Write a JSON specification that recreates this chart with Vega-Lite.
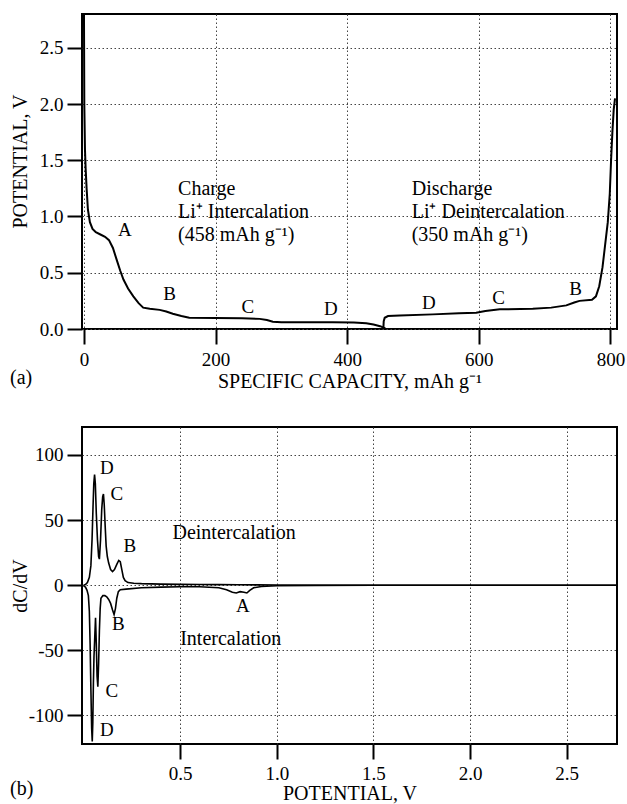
{
  "$schema": "https://vega.github.io/schema/vega-lite/v6.json",
  "background": "white",
  "padding": {"left": 8, "top": 13, "right": 5, "bottom": 5},
  "spacing": 98,
  "bounds": "flush",
  "config": {
    "font": "Liberation Serif",
    "view": {"stroke": "black", "strokeWidth": 2},
    "axis": {
      "domain": false,
      "ticks": true,
      "tickColor": "black",
      "tickWidth": 2,
      "tickSize": 15,
      "labelColor": "black",
      "labelFont": "Liberation Serif",
      "labelFontSize": 19,
      "labelPadding": 4,
      "titleColor": "black",
      "titleFont": "Liberation Serif",
      "titleFontSize": 20,
      "titleFontWeight": "normal",
      "grid": true,
      "gridColor": "#444",
      "gridDash": [1.5, 2.5],
      "gridWidth": 1
    },
    "axisX": {"labelPadding": 6, "titlePadding": 2},
    "title": {"font": "Liberation Serif", "fontSize": 20, "fontWeight": "normal", "color": "black"},
    "text": {"font": "Liberation Serif", "fontSize": 20, "color": "black"}
  },
  "datasets": {
    "voltage": [
      {"step": "charge", "cap": 0, "v": 2.8},
      {"step": "charge", "cap": 0.5, "v": 2.0},
      {"step": "charge", "cap": 1.5, "v": 1.6},
      {"step": "charge", "cap": 2.5, "v": 1.43},
      {"step": "charge", "cap": 4, "v": 1.25},
      {"step": "charge", "cap": 6, "v": 1.06},
      {"step": "charge", "cap": 9, "v": 0.95},
      {"step": "charge", "cap": 13, "v": 0.89},
      {"step": "charge", "cap": 18, "v": 0.86},
      {"step": "charge", "cap": 25, "v": 0.84},
      {"step": "charge", "cap": 32, "v": 0.82},
      {"step": "charge", "cap": 38, "v": 0.79},
      {"step": "charge", "cap": 44, "v": 0.72},
      {"step": "charge", "cap": 50, "v": 0.61},
      {"step": "charge", "cap": 55, "v": 0.52},
      {"step": "charge", "cap": 60, "v": 0.44},
      {"step": "charge", "cap": 67, "v": 0.36},
      {"step": "charge", "cap": 75, "v": 0.29},
      {"step": "charge", "cap": 83, "v": 0.23},
      {"step": "charge", "cap": 90, "v": 0.19},
      {"step": "charge", "cap": 100, "v": 0.18},
      {"step": "charge", "cap": 115, "v": 0.17},
      {"step": "charge", "cap": 125, "v": 0.155},
      {"step": "charge", "cap": 135, "v": 0.135},
      {"step": "charge", "cap": 148, "v": 0.115},
      {"step": "charge", "cap": 160, "v": 0.1},
      {"step": "charge", "cap": 200, "v": 0.098},
      {"step": "charge", "cap": 240, "v": 0.095},
      {"step": "charge", "cap": 267, "v": 0.09},
      {"step": "charge", "cap": 278, "v": 0.08},
      {"step": "charge", "cap": 287, "v": 0.065},
      {"step": "charge", "cap": 300, "v": 0.06},
      {"step": "charge", "cap": 378, "v": 0.06},
      {"step": "charge", "cap": 410, "v": 0.058},
      {"step": "charge", "cap": 429, "v": 0.052},
      {"step": "charge", "cap": 440, "v": 0.04},
      {"step": "charge", "cap": 450, "v": 0.025},
      {"step": "charge", "cap": 458, "v": 0.005},
      {"step": "discharge", "cap": 455, "v": 0.01},
      {"step": "discharge", "cap": 455.5, "v": 0.07},
      {"step": "discharge", "cap": 457, "v": 0.1},
      {"step": "discharge", "cap": 462, "v": 0.115},
      {"step": "discharge", "cap": 480, "v": 0.12},
      {"step": "discharge", "cap": 530, "v": 0.13},
      {"step": "discharge", "cap": 570, "v": 0.14},
      {"step": "discharge", "cap": 596, "v": 0.145},
      {"step": "discharge", "cap": 610, "v": 0.16},
      {"step": "discharge", "cap": 632, "v": 0.175},
      {"step": "discharge", "cap": 682, "v": 0.18},
      {"step": "discharge", "cap": 710, "v": 0.19},
      {"step": "discharge", "cap": 733, "v": 0.21},
      {"step": "discharge", "cap": 745, "v": 0.235},
      {"step": "discharge", "cap": 753, "v": 0.25},
      {"step": "discharge", "cap": 772, "v": 0.26},
      {"step": "discharge", "cap": 778, "v": 0.29},
      {"step": "discharge", "cap": 783, "v": 0.38},
      {"step": "discharge", "cap": 788, "v": 0.55},
      {"step": "discharge", "cap": 792, "v": 0.75},
      {"step": "discharge", "cap": 796, "v": 0.95},
      {"step": "discharge", "cap": 799, "v": 1.2},
      {"step": "discharge", "cap": 801, "v": 1.5},
      {"step": "discharge", "cap": 803, "v": 1.75},
      {"step": "discharge", "cap": 805, "v": 1.95},
      {"step": "discharge", "cap": 807, "v": 2.05}
    ],
    "voltageNotes": [
      {"cap": 143, "v": 1.19, "text": "Charge"},
      {"cap": 143, "v": 0.985, "text": "Li⁺ Intercalation"},
      {"cap": 143, "v": 0.78, "text": "(458 mAh g⁻¹)"},
      {"cap": 498, "v": 1.19, "text": "Discharge"},
      {"cap": 498, "v": 0.985, "text": "Li⁺ Deintercalation"},
      {"cap": 498, "v": 0.78, "text": "(350 mAh g⁻¹)"}
    ],
    "voltagePeaks": [
      {"cap": 62, "v": 0.88, "text": "A"},
      {"cap": 130, "v": 0.31, "text": "B"},
      {"cap": 249, "v": 0.2, "text": "C"},
      {"cap": 375, "v": 0.18, "text": "D"},
      {"cap": 524, "v": 0.23, "text": "D"},
      {"cap": 630, "v": 0.28, "text": "C"},
      {"cap": 747, "v": 0.36, "text": "B"}
    ],
    "differential": [
      {"process": "Deintercalation", "pot": 0.0, "dcdv": 0},
      {"process": "Deintercalation", "pot": 0.01, "dcdv": 0.5},
      {"process": "Deintercalation", "pot": 0.02, "dcdv": 2},
      {"process": "Deintercalation", "pot": 0.03, "dcdv": 6},
      {"process": "Deintercalation", "pot": 0.038, "dcdv": 15},
      {"process": "Deintercalation", "pot": 0.044, "dcdv": 35},
      {"process": "Deintercalation", "pot": 0.049, "dcdv": 60},
      {"process": "Deintercalation", "pot": 0.053, "dcdv": 78},
      {"process": "Deintercalation", "pot": 0.057, "dcdv": 85},
      {"process": "Deintercalation", "pot": 0.061, "dcdv": 78},
      {"process": "Deintercalation", "pot": 0.066, "dcdv": 55},
      {"process": "Deintercalation", "pot": 0.072, "dcdv": 35},
      {"process": "Deintercalation", "pot": 0.078, "dcdv": 22},
      {"process": "Deintercalation", "pot": 0.082, "dcdv": 20},
      {"process": "Deintercalation", "pot": 0.088, "dcdv": 35},
      {"process": "Deintercalation", "pot": 0.094, "dcdv": 58},
      {"process": "Deintercalation", "pot": 0.099, "dcdv": 68},
      {"process": "Deintercalation", "pot": 0.103, "dcdv": 70},
      {"process": "Deintercalation", "pot": 0.107, "dcdv": 62},
      {"process": "Deintercalation", "pot": 0.112, "dcdv": 45},
      {"process": "Deintercalation", "pot": 0.117, "dcdv": 30},
      {"process": "Deintercalation", "pot": 0.123, "dcdv": 22},
      {"process": "Deintercalation", "pot": 0.13, "dcdv": 17},
      {"process": "Deintercalation", "pot": 0.14, "dcdv": 12},
      {"process": "Deintercalation", "pot": 0.15, "dcdv": 10.5},
      {"process": "Deintercalation", "pot": 0.16, "dcdv": 12},
      {"process": "Deintercalation", "pot": 0.172, "dcdv": 16},
      {"process": "Deintercalation", "pot": 0.182, "dcdv": 19},
      {"process": "Deintercalation", "pot": 0.19, "dcdv": 18},
      {"process": "Deintercalation", "pot": 0.198, "dcdv": 12},
      {"process": "Deintercalation", "pot": 0.206, "dcdv": 6},
      {"process": "Deintercalation", "pot": 0.215, "dcdv": 3.5},
      {"process": "Deintercalation", "pot": 0.23, "dcdv": 2},
      {"process": "Deintercalation", "pot": 0.26, "dcdv": 1.5},
      {"process": "Deintercalation", "pot": 0.3, "dcdv": 1.2},
      {"process": "Deintercalation", "pot": 0.4, "dcdv": 0.8},
      {"process": "Deintercalation", "pot": 0.5, "dcdv": 0.6},
      {"process": "Deintercalation", "pot": 0.6, "dcdv": 0.5},
      {"process": "Deintercalation", "pot": 0.7, "dcdv": 0.4},
      {"process": "Deintercalation", "pot": 0.8, "dcdv": 0.3},
      {"process": "Deintercalation", "pot": 0.9, "dcdv": 0.2},
      {"process": "Deintercalation", "pot": 1.0, "dcdv": 0.1},
      {"process": "Deintercalation", "pot": 1.5, "dcdv": 0},
      {"process": "Deintercalation", "pot": 2.76, "dcdv": 0},
      {"process": "Intercalation", "pot": 0.0, "dcdv": -0.5},
      {"process": "Intercalation", "pot": 0.01, "dcdv": -1.5},
      {"process": "Intercalation", "pot": 0.018, "dcdv": -4},
      {"process": "Intercalation", "pot": 0.025, "dcdv": -8},
      {"process": "Intercalation", "pot": 0.03, "dcdv": -20},
      {"process": "Intercalation", "pot": 0.034, "dcdv": -45},
      {"process": "Intercalation", "pot": 0.038, "dcdv": -80},
      {"process": "Intercalation", "pot": 0.042, "dcdv": -110},
      {"process": "Intercalation", "pot": 0.045, "dcdv": -120},
      {"process": "Intercalation", "pot": 0.048, "dcdv": -105},
      {"process": "Intercalation", "pot": 0.051, "dcdv": -75},
      {"process": "Intercalation", "pot": 0.054, "dcdv": -55},
      {"process": "Intercalation", "pot": 0.058, "dcdv": -40},
      {"process": "Intercalation", "pot": 0.062, "dcdv": -25},
      {"process": "Intercalation", "pot": 0.066, "dcdv": -45},
      {"process": "Intercalation", "pot": 0.07, "dcdv": -70},
      {"process": "Intercalation", "pot": 0.074, "dcdv": -78},
      {"process": "Intercalation", "pot": 0.078, "dcdv": -60},
      {"process": "Intercalation", "pot": 0.082, "dcdv": -35},
      {"process": "Intercalation", "pot": 0.086, "dcdv": -18},
      {"process": "Intercalation", "pot": 0.09, "dcdv": -10},
      {"process": "Intercalation", "pot": 0.1, "dcdv": -8},
      {"process": "Intercalation", "pot": 0.11, "dcdv": -8},
      {"process": "Intercalation", "pot": 0.12, "dcdv": -9},
      {"process": "Intercalation", "pot": 0.13, "dcdv": -11},
      {"process": "Intercalation", "pot": 0.14, "dcdv": -14},
      {"process": "Intercalation", "pot": 0.15, "dcdv": -19},
      {"process": "Intercalation", "pot": 0.158, "dcdv": -22.5},
      {"process": "Intercalation", "pot": 0.165, "dcdv": -18},
      {"process": "Intercalation", "pot": 0.172, "dcdv": -10},
      {"process": "Intercalation", "pot": 0.18, "dcdv": -5},
      {"process": "Intercalation", "pot": 0.19, "dcdv": -3.5},
      {"process": "Intercalation", "pot": 0.22, "dcdv": -3},
      {"process": "Intercalation", "pot": 0.3, "dcdv": -2},
      {"process": "Intercalation", "pot": 0.4, "dcdv": -1.5},
      {"process": "Intercalation", "pot": 0.5, "dcdv": -1.2},
      {"process": "Intercalation", "pot": 0.6, "dcdv": -1.2},
      {"process": "Intercalation", "pot": 0.7, "dcdv": -2},
      {"process": "Intercalation", "pot": 0.74, "dcdv": -3.5},
      {"process": "Intercalation", "pot": 0.77, "dcdv": -5.5},
      {"process": "Intercalation", "pot": 0.79, "dcdv": -6},
      {"process": "Intercalation", "pot": 0.81, "dcdv": -5},
      {"process": "Intercalation", "pot": 0.83, "dcdv": -5.5},
      {"process": "Intercalation", "pot": 0.845, "dcdv": -6},
      {"process": "Intercalation", "pot": 0.86, "dcdv": -4},
      {"process": "Intercalation", "pot": 0.88, "dcdv": -2},
      {"process": "Intercalation", "pot": 0.92, "dcdv": -1},
      {"process": "Intercalation", "pot": 1.0, "dcdv": -0.5},
      {"process": "Intercalation", "pot": 1.2, "dcdv": -0.2},
      {"process": "Intercalation", "pot": 1.5, "dcdv": 0},
      {"process": "Intercalation", "pot": 2.76, "dcdv": 0}
    ],
    "differentialNotes": [
      {"pot": 0.46, "dcdv": 40, "text": "Deintercalation"},
      {"pot": 0.5, "dcdv": -41, "text": "Intercalation"}
    ],
    "differentialPeaks": [
      {"pot": 0.12, "dcdv": 90, "text": "D"},
      {"pot": 0.172, "dcdv": 70, "text": "C"},
      {"pot": 0.24, "dcdv": 30, "text": "B"},
      {"pot": 0.824, "dcdv": -16, "text": "A"},
      {"pot": 0.18, "dcdv": -30, "text": "B"},
      {"pot": 0.146, "dcdv": -81, "text": "C"},
      {"pot": 0.12, "dcdv": -111, "text": "D"}
    ]
  },
  "vconcat": [
    {
      "width": 535,
      "height": 315,
      "title": {"text": "(a)", "orient": "bottom", "anchor": "start", "frame": "bounds", "offset": -23},
      "layer": [
        {
          "data": {"name": "voltage"},
          "mark": {"type": "line", "color": "black", "strokeWidth": 2, "clip": true},
          "encoding": {
            "x": {
              "field": "cap", "type": "quantitative",
              "scale": {"domain": [-3, 810], "nice": false, "zero": false},
              "axis": {"values": [0, 200, 400, 600, 800], "title": "SPECIFIC CAPACITY, mAh g⁻¹"}
            },
            "y": {
              "field": "v", "type": "quantitative",
              "scale": {"domain": [0, 2.8], "nice": false},
              "axis": {"values": [0, 0.5, 1, 1.5, 2, 2.5], "format": ".1f", "title": "POTENTIAL, V", "titleX": -52, "titleY": 147}
            },
            "detail": {"field": "step"}
          }
        },
        {
          "data": {"name": "voltageNotes"},
          "mark": {"type": "text", "align": "left", "baseline": "alphabetic"},
          "encoding": {
            "x": {"field": "cap", "type": "quantitative"},
            "y": {"field": "v", "type": "quantitative"},
            "text": {"field": "text"}
          }
        },
        {
          "data": {"name": "voltagePeaks"},
          "mark": {"type": "text", "align": "center", "baseline": "middle", "fontSize": 19},
          "encoding": {
            "x": {"field": "cap", "type": "quantitative"},
            "y": {"field": "v", "type": "quantitative"},
            "text": {"field": "text"}
          }
        }
      ]
    },
    {
      "width": 535,
      "height": 317,
      "title": {"text": "(b)", "orient": "bottom", "anchor": "start", "frame": "bounds", "offset": -24},
      "layer": [
        {
          "data": {"name": "differential"},
          "mark": {"type": "line", "color": "black", "strokeWidth": 1.6, "clip": true},
          "encoding": {
            "x": {
              "field": "pot", "type": "quantitative",
              "scale": {"domain": [-0.008, 2.76], "nice": false, "zero": false},
              "axis": {"values": [0.5, 1, 1.5, 2, 2.5], "format": ".1f", "title": "POTENTIAL, V", "labelPadding": 5, "titlePadding": 0}
            },
            "y": {
              "field": "dcdv", "type": "quantitative",
              "scale": {"domain": [-122, 121.5], "nice": false},
              "axis": {
                "values": [-100, -50, 0, 50, 100],
                "labelExpr": "datum.value < 0 ? '-' + abs(datum.value) : '' + datum.value",
                "title": "dC/dV", "titleX": -52
              }
            },
            "detail": {"field": "process"}
          }
        },
        {
          "data": {"name": "differentialNotes"},
          "mark": {"type": "text", "align": "left", "baseline": "middle"},
          "encoding": {
            "x": {"field": "pot", "type": "quantitative"},
            "y": {"field": "dcdv", "type": "quantitative"},
            "text": {"field": "text"}
          }
        },
        {
          "data": {"name": "differentialPeaks"},
          "mark": {"type": "text", "align": "center", "baseline": "middle", "fontSize": 19},
          "encoding": {
            "x": {"field": "pot", "type": "quantitative"},
            "y": {"field": "dcdv", "type": "quantitative"},
            "text": {"field": "text"}
          }
        }
      ]
    }
  ]
}
